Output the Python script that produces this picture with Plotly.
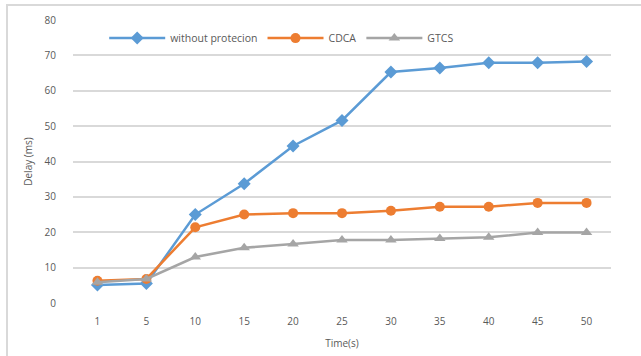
import plotly.graph_objects as go

# Time points (s) shown as categories
times = ["1", "5", "10", "15", "20", "25", "30", "35", "40", "45", "50"]

# Delay (ms) per scheme
without_protection = [5.1, 5.5, 25.0, 33.7, 44.4, 51.6, 65.3, 66.4, 67.9, 67.9, 68.3]
cdca = [6.3, 6.8, 21.4, 25.0, 25.4, 25.4, 26.1, 27.2, 27.2, 28.3, 28.3]
gtcs = [5.9, 6.8, 13.0, 15.6, 16.7, 17.8, 17.8, 18.2, 18.6, 19.9, 19.9]

y_ticks = [0, 10, 20, 30, 40, 50, 60, 70, 80]

series = [
    ("without protecion", without_protection, "#5b9bd5", "diamond", 10),
    ("CDCA", cdca, "#ed7d31", "circle", 10),
    ("GTCS", gtcs, "#a5a5a5", "triangle-up", 10),
]

fig = go.Figure()
for name, vals, color, symbol, size in series:
    fig.add_trace(go.Scatter(
        x=times, y=vals, name=name, mode="lines+markers",
        line=dict(color=color, width=2.5),
        marker=dict(symbol=symbol, size=size, color=color),
    ))

font_family = "Open Sans, Liberation Sans, sans-serif"
tick_color = "#595959"

fig.update_layout(
    width=641, height=356,
    margin=dict(l=73, r=30, t=20, b=53),
    paper_bgcolor="white", plot_bgcolor="white",
    font=dict(family=font_family, size=10, color=tick_color),
    showlegend=True,
    legend=dict(
        orientation="h", x=0.058, y=0.936, xanchor="left", yanchor="middle",
        font=dict(size=10.5, color=tick_color), itemwidth=56,
        bgcolor="rgba(255,255,255,0)", tracegroupgap=0,
    ),
    xaxis=dict(
        type="category", range=[-0.5, len(times) - 0.5], automargin=False,
        showgrid=False, zeroline=False, showline=False,
        ticks="outside", ticklen=9, tickcolor="rgba(0,0,0,0)",
        tickfont=dict(size=10, color=tick_color),
        title=dict(text="Time(s)", font=dict(size=10, color=tick_color), standoff=12),
    ),
    yaxis=dict(
        range=[0, 80], tickvals=y_ticks, automargin=False,
        showgrid=True, gridcolor="#d9d9d9",
        gridwidth=1.5, zeroline=False, showline=False,
        ticks="outside", ticklen=14, tickcolor="rgba(0,0,0,0)",
        tickfont=dict(size=10, color=tick_color),
        title=dict(text="Delay (ms)", font=dict(size=10, color=tick_color), standoff=10),
    ),
    shapes=[dict(
        type="rect", xref="paper", yref="paper",
        x0=-0.1227, x1=1.2, y0=-0.3, y1=1.053,
        line=dict(color="#d9d9d9", width=2), fillcolor="rgba(0,0,0,0)", layer="below",
    )],
)

fig.write_html("out.html")
